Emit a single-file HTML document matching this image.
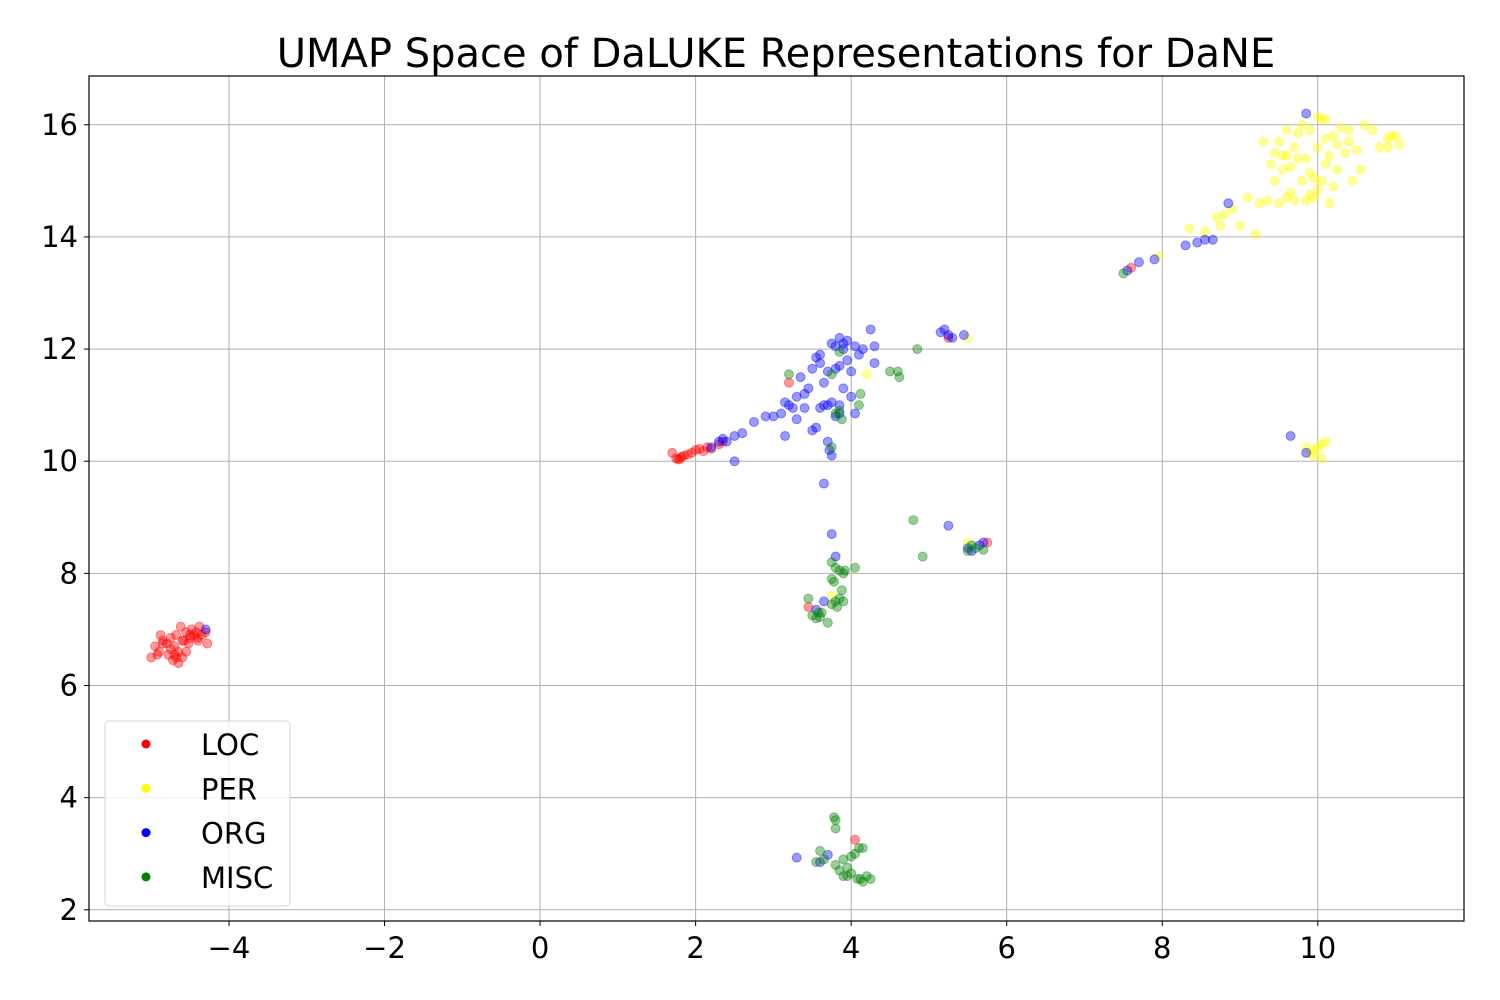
<!DOCTYPE html>
<html><head><meta charset="utf-8"><style>body{margin:0;background:#fff}svg{display:block}text{font-family:"DejaVu Sans","Liberation Sans",sans-serif}</style></head>
<body>
<svg id="chart" width="1500" height="1000">
<rect width="1500" height="1000" fill="#fff"/>
<g id="grid"></g><g id="marks"></g><g id="axes"></g><g id="legend"></g>
<text x="776" y="67" font-size="40" text-anchor="middle">UMAP Space of DaLUKE Representations for DaNE</text>
</svg>
<script>
const xTicks=[-4,-2,0,2,4,6,8,10];
const yTicks=[2,4,6,8,10,12,14,16];
const categories=["LOC","PER","ORG","MISC"];
const catColors=["#ff0000","#ffff00","#0000ff","#008000"];
const locPoints=[[-5.0,6.5],[-4.95,6.7],[-4.9,6.6],[-4.88,6.9],[-4.85,6.8],[-4.8,6.75],[-4.78,6.55],[-4.75,6.85],[-4.72,6.45],[-4.7,6.7],[-4.68,6.9],[-4.65,6.6],[-4.62,7.05],[-4.6,6.5],[-4.58,6.8],[-4.55,6.95],[-4.52,6.75],[-4.5,6.85],[-4.48,7.0],[-4.45,6.9],[-4.42,6.95],[-4.4,6.85],[-4.38,7.05],[-4.35,6.9],[-4.3,6.95],[-4.28,6.75],[-4.7,6.55],[-4.65,6.4],[-4.6,6.8],[-4.75,6.65],[-4.85,6.75],[-4.55,6.6],[-4.5,6.9],[-4.4,6.8],[-4.68,6.5],[-4.92,6.55],[1.7,10.15],[1.75,10.05],[1.8,10.05],[1.85,10.1],[1.9,10.12],[1.95,10.15],[2.0,10.2],[2.05,10.22],[2.1,10.18],[2.15,10.25],[2.2,10.22],[2.3,10.3],[2.35,10.35],[1.78,10.03],[1.82,10.08],[3.2,11.4],[3.45,7.4],[4.05,3.25],[5.25,12.2],[5.75,8.55],[7.6,13.45]];
const perPoints=[[9.4,15.3],[9.45,15.5],[9.5,15.7],[9.55,15.2],[9.6,15.9],[9.65,14.8],[9.7,15.6],[9.75,15.85],[9.8,15.0],[9.85,15.4],[9.9,15.9],[9.95,14.7],[10.0,15.6],[10.05,16.1],[10.1,15.3],[10.15,14.6],[10.2,15.8],[10.25,15.2],[10.3,15.95],[10.35,15.5],[10.4,15.7],[10.5,15.55],[10.6,16.0],[10.7,15.9],[10.8,15.6],[10.9,15.75],[10.95,15.8],[11.05,15.65],[10.0,16.15],[10.1,16.1],[9.85,14.65],[9.9,14.75],[9.7,14.65],[9.6,14.7],[9.5,14.6],[9.35,14.65],[9.3,15.7],[9.45,15.0],[9.55,15.45],[10.05,15.0],[10.15,15.45],[10.2,14.9],[10.0,14.85],[9.8,16.0],[9.65,15.25],[10.45,15.0],[10.4,15.9],[10.55,15.2],[9.9,15.15],[10.25,15.65],[9.75,15.4],[10.1,15.75],[10.9,15.6],[11.0,15.8],[9.95,15.05],[9.6,15.45],[8.35,14.15],[8.55,14.1],[8.7,14.35],[8.8,14.4],[8.9,14.5],[9.0,14.2],[9.1,14.7],[9.2,14.05],[9.25,14.6],[8.75,14.2],[7.95,13.65],[9.85,10.25],[9.9,10.15],[9.95,10.1],[10.0,10.25],[10.05,10.3],[10.1,10.35],[10.05,10.05],[9.95,10.2],[5.5,12.2],[5.5,8.55],[3.75,7.6],[4.2,11.55]];
const orgPoints=[[3.0,10.8],[3.1,10.85],[3.15,11.05],[3.2,11.0],[3.25,10.95],[3.3,11.15],[3.35,11.5],[3.4,11.2],[3.45,11.3],[3.5,10.55],[3.55,11.85],[3.6,11.9],[3.65,11.0],[3.7,11.6],[3.75,12.1],[3.8,12.05],[3.85,12.2],[3.9,12.1],[3.95,11.8],[4.0,11.6],[4.05,12.05],[4.1,11.9],[4.15,12.0],[4.25,12.35],[4.3,12.05],[4.3,11.75],[3.85,11.0],[3.9,11.3],[3.75,11.05],[3.7,10.35],[3.72,10.2],[3.75,10.1],[3.6,10.95],[3.55,10.6],[3.4,10.95],[3.3,10.75],[3.15,10.45],[3.8,10.8],[3.85,10.85],[4.0,11.15],[4.05,10.85],[3.65,11.4],[3.5,11.65],[3.85,11.7],[3.95,12.15],[3.8,11.65],[3.7,11.0],[3.6,11.75],[3.9,12.0],[2.2,10.25],[2.3,10.35],[2.35,10.4],[2.4,10.35],[2.5,10.45],[2.6,10.5],[2.75,10.7],[2.9,10.8],[2.5,10.0],[5.15,12.3],[5.2,12.35],[5.25,12.25],[5.3,12.2],[5.45,12.25],[7.55,13.4],[7.7,13.55],[7.9,13.6],[8.3,13.85],[8.45,13.9],[8.55,13.95],[8.65,13.95],[8.85,14.6],[9.85,16.2],[9.65,10.45],[9.85,10.15],[5.5,8.45],[5.55,8.4],[5.65,8.5],[5.7,8.55],[5.25,8.85],[3.65,9.6],[3.75,8.7],[3.8,8.3],[3.65,7.5],[3.3,2.93],[3.7,2.98],[3.6,2.85],[-4.3,7.0],[3.55,7.35]];
const miscPoints=[[3.45,7.55],[3.5,7.25],[3.55,7.2],[3.58,7.3],[3.6,7.22],[3.7,7.12],[3.75,7.45],[3.8,7.5],[3.85,7.55],[3.9,7.5],[3.78,7.85],[3.8,8.1],[3.75,8.2],[3.85,8.05],[3.9,8.0],[3.92,8.05],[4.05,8.1],[3.88,7.7],[3.82,7.4],[3.75,7.9],[3.62,7.3],[3.8,3.6],[3.78,3.65],[3.8,3.45],[3.55,2.85],[3.6,3.05],[3.65,2.9],[3.8,2.8],[3.85,2.7],[3.9,2.6],[3.95,2.75],[4.0,2.65],[4.05,3.0],[4.1,3.1],[4.12,2.55],[4.15,2.5],[4.2,2.6],[4.25,2.55],[3.9,2.9],[4.0,2.95],[4.08,2.55],[3.95,2.6],[4.15,3.1],[4.8,8.95],[4.92,8.3],[5.5,8.4],[5.6,8.45],[5.7,8.42],[5.55,8.5],[4.85,12.0],[4.5,11.6],[4.6,11.6],[4.62,11.5],[4.1,11.0],[4.12,11.2],[3.85,10.9],[3.88,10.75],[3.2,11.55],[7.5,13.35],[3.75,10.25],[3.8,10.85],[3.85,11.95],[3.75,11.55]];
const seriesPoints=[locPoints,perPoints,orgPoints,miscPoints];

const L=89,R=1464,T=76,B=921;
const xMin=-5.80,xMax=11.88,yMin=1.80,yMax=16.87;
const sx=v=>L+(v-xMin)/(xMax-xMin)*(R-L);
const sy=v=>B-(v-yMin)/(yMax-yMin)*(B-T);
const NS="http://www.w3.org/2000/svg";
function mk(tag,attrs,parent){const e=document.createElementNS(NS,tag);for(const k in attrs)e.setAttribute(k,attrs[k]);parent.appendChild(e);return e;}
const grid=document.getElementById('grid'),marks=document.getElementById('marks'),axes=document.getElementById('axes'),legend=document.getElementById('legend');
xTicks.forEach(t=>{const x=sx(t);
 const g=mk('line',{x1:x,x2:x,y1:T,y2:B,stroke:'#b0b0b0','stroke-width':1},grid);
 
 
 mk('line',{x1:x,x2:x,y1:B,y2:B+5,stroke:'#000','stroke-width':1},axes);
 const tx=mk('text',{x:x,y:B+37,'font-size':29,'text-anchor':'middle'},axes);tx.textContent=(t<0?'\u2212'+(-t):t);
 
 
});
yTicks.forEach(t=>{const y=sy(t);
 const g=mk('line',{x1:L,x2:R,y1:y,y2:y,stroke:'#b0b0b0','stroke-width':1},grid);
 
 
 mk('line',{x1:L-5,x2:L,y1:y,y2:y,stroke:'#000','stroke-width':1},axes);
 const tx=mk('text',{x:L-11,y:y+10,'font-size':29,'text-anchor':'end'},axes);tx.textContent=t;
 
 
});
const frame=mk('rect',{x:L,y:T,width:R-L,height:B-T,fill:'none',stroke:'#000','stroke-width':1.2},axes);


seriesPoints.forEach((pts,i)=>{pts.forEach(p=>{
 const c=mk('circle',{cx:sx(p[0]),cy:sy(p[1]),r:4.5,fill:catColors[i],'fill-opacity':0.4,stroke:catColors[i],'stroke-opacity':0.4,'stroke-width':1},marks);
 
 
});});
const lb=mk('rect',{x:105,y:721,width:185,height:185,rx:4,fill:'#fff','fill-opacity':0.8,stroke:'#d6d6d6','stroke-width':1},legend);


categories.forEach((c,i)=>{const y=744+i*44.3;
 const m=mk('circle',{cx:146,cy:y,r:4.5,fill:catColors[i]},legend);
 
 
 const t=mk('text',{x:201,y:y+11,'font-size':29},legend);t.textContent=c;
 
 
});
</script>
</body></html>
